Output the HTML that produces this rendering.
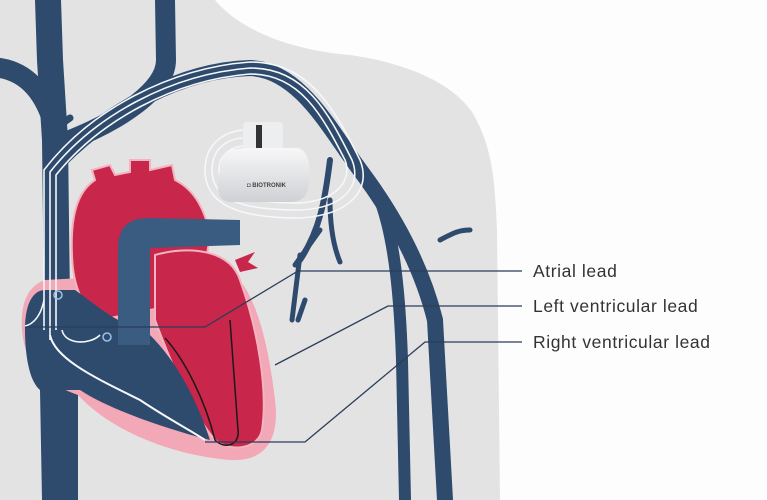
<!DOCTYPE html>
<html><head><meta charset="utf-8"><style>
html,body{margin:0;padding:0;background:#fff}
svg{display:block}
text{font-family:"Liberation Sans",sans-serif}
</style></head><body>
<svg width="767" height="500" viewBox="0 0 767 500" xmlns="http://www.w3.org/2000/svg">
<defs>
<linearGradient id="pm" x1="0" y1="0" x2="0" y2="1"><stop offset="0" stop-color="#f7f7f8"/><stop offset="1" stop-color="#cfd1d4"/></linearGradient>
</defs>
<rect width="767" height="500" fill="#fdfdfd"/>
<path d="M0 0 L215 0 C240 30 290 50 350 55 C400 62 450 80 472 112 C492 145 495 180 497 230 L500 500 L0 500 Z" fill="#e3e3e4"/>
<g fill="none" stroke="#2e4a6c" stroke-linecap="round">
<path d="M48 0 L50 60 L55 140 L57 300" stroke-width="26"/>
<path d="M0 68 C25 72 45 90 55 130" stroke-width="20"/>
<path d="M165 0 L166 60 C166 90 120 120 70 140" stroke-width="20"/>
<path d="M70 118 L60 125" stroke-width="7"/>
<path d="M60 160 C110 110 180 70 250 68 C300 70 330 130 360 170 C390 210 420 260 435 320 L445 500" stroke-width="16"/>
<path d="M380 200 C395 240 400 300 402 360 L405 500" stroke-width="12"/>
<path d="M440 240 C455 232 460 230 470 230" stroke-width="5"/>
<path d="M330 160 C325 200 320 230 300 260" stroke-width="6"/>
<path d="M320 230 L295 265 M300 255 L292 320 M330 200 C330 230 335 250 340 262 M305 300 L298 320" stroke-width="5"/>
</g>
<path d="M40 390 L42 500 L78 500 L78 390 Z" fill="#2e4a6c"/>
<path d="M22 330 C20 300 30 285 45 280 L230 270 C255 290 268 340 275 400 C280 440 265 462 230 460 C170 455 110 430 78 395 C50 385 25 370 22 330 Z" fill="#f2a8b6"/>
<path d="M72 255 C70 210 80 190 95 180 L92 170 L110 165 L115 175 L130 172 L130 160 L150 160 L150 170 L172 165 L175 180 C195 190 205 210 210 235 L200 300 L100 320 C85 310 73 290 72 255 Z" fill="#c8264a" stroke="#f2b4c0" stroke-width="2"/>
<path d="M155 255 C190 245 230 250 240 280 C258 330 268 390 262 430 C258 450 230 452 215 440 C190 410 170 360 155 320 Z" fill="#c8264a" stroke="#f2b4c0" stroke-width="2"/>
<path d="M235 260 L255 252 L248 262 L258 268 L240 272 Z" fill="#c8264a"/>
<path d="M25 330 C25 300 35 290 45 290 L75 290 C90 300 110 320 150 335 C175 360 195 395 210 440 C170 430 110 410 80 390 L40 390 C28 380 25 350 25 330 Z" fill="#2e4a6c"/>
<path d="M240 220 L240 245 L150 248 L150 345 L118 345 L118 250 C118 225 130 218 150 218 Z" fill="#3a5c80"/>
<g fill="none" stroke="#f5f7fa" stroke-width="1.6">
<path d="M44 330 L44 170 C90 110 170 68 250 62 C310 62 335 110 360 160 C372 190 350 215 300 218 C250 218 205 210 205 170 C205 140 230 130 245 130"/>
<path d="M50 340 L50 172 C95 115 172 74 250 68 C305 68 328 112 352 160 C362 185 345 208 300 210 C255 210 212 205 212 170 C212 145 232 138 245 138"/>
<path d="M56 330 L56 175 C100 120 175 80 250 74 C300 74 322 115 345 160 C352 178 340 200 300 203 C258 203 219 198 219 170 C219 152 235 146 245 146"/>
<path d="M50 335 C55 360 100 380 140 400 C170 420 190 430 205 440" stroke-width="2"/>
<path d="M44 300 C40 320 30 325 25 326"/>
<path d="M62 330 C65 345 90 345 100 335"/>
</g>
<path d="M165 338 C185 360 205 400 215 440 C225 450 240 445 238 430 L230 320" fill="none" stroke="#1a1a1a" stroke-width="1.5"/>
<circle cx="58" cy="295" r="4" fill="none" stroke="#9bc3e8" stroke-width="1.5"/>
<circle cx="107" cy="337" r="4" fill="none" stroke="#9bc3e8" stroke-width="1.5"/>
<rect x="243" y="122" width="40" height="30" rx="4" fill="#eceef0"/>
<rect x="256" y="125" width="6" height="24" fill="#333"/>
<path d="M222 160 C222 148 240 148 255 148 L298 148 C306 150 310 160 310 175 L308 190 C305 198 300 202 290 202 L232 202 C220 202 217 195 218 180 Z" fill="url(#pm)"/>
<text x="247" y="187" font-size="6" font-weight="bold" fill="#444">◘ BIOTRONIK</text>
<g fill="none" stroke="#2a3d5a" stroke-width="1.3">
<path d="M522 271 L298 271 L205 327 L25 327"/>
<path d="M522 306 L388 306 L275 365"/>
<path d="M522 342 L425 342 L305 442 L205 442"/>
</g>
<g font-size="17.5" fill="#333" letter-spacing="0.6">
<text x="533" y="277">Atrial lead</text>
<text x="533" y="312">Left ventricular lead</text>
<text x="533" y="348">Right ventricular lead</text>
</g>
</svg>
</body></html>
